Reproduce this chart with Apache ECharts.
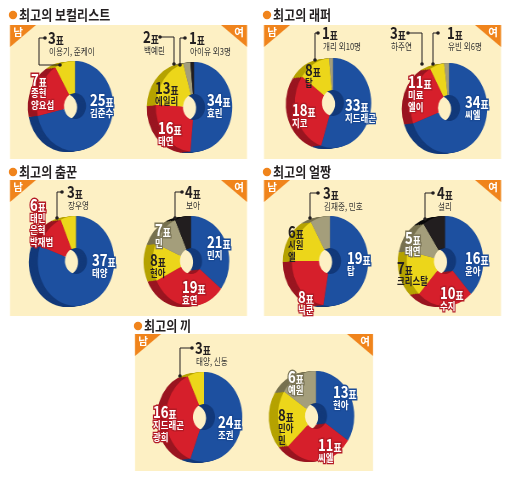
<!DOCTYPE html>
<html>
<head>
<meta charset="utf-8">
<script src="https://cdn.jsdelivr.net/npm/echarts@6/dist/echarts.min.js"></script>
<style>
html, body { margin: 0; padding: 0; background: #fff; width: 510px; height: 480px; overflow: hidden; }
/* 도넛은 세로로 긴 타원 → 파이 레이어만 가로로 압축 */
#pies { position: absolute; left: 0; top: 0; width: 600px; height: 480px; transform: scaleX(0.85); transform-origin: 0 0; }
#text { position: absolute; left: 0; top: 0; width: 510px; height: 480px; }
</style>
</head>
<body>
<div id="pies"></div>
<div id="text"></div>
<script>
// 부문별 득표수(표) — 남/여
const TITLES = ['최고의 보컬리스트', '최고의 래퍼', '최고의 춤꾼', '최고의 얼짱', '최고의 끼'];
const GENDER = ['남', '여'];

const vocalM = [25, 7, 3];
const vocalMNames = ['김준수', '종현\n양요섭', '이용기, 준케이'];
const vocalF = [34, 16, 13, 2, 1];
const vocalFNames = ['효린', '태연', '에일리', '백예린', '아이유 외3명'];
const rapM = [33, 18, 8, 1];
const rapMNames = ['지드래곤', '지코', '탑', '개리 외10명'];
const rapF = [34, 11, 3, 1];
const rapFNames = ['씨엘', '미료\n엘이', '하주연', '유빈 외6명'];
const danceM = [37, 6, 3];
const danceMNames = ['태양', '태민\n은혁\n박재범', '장우영'];
const danceF = [21, 19, 8, 7, 4];
const danceFNames = ['민지', '효연', '현아', '민', '보아'];
const faceM = [19, 8, 6, 3];
const faceMNames = ['탑', '닉쿤', '시원\n엘', '김재중, 민호'];
const faceF = [16, 10, 7, 5, 4];
const faceFNames = ['윤아', '수지', '크리스탈', '태연', '설리'];
const talentM = [24, 16, 3];
const talentMNames = ['조권', '지드래곤\n광희', '태양, 신동'];
const talentF = [13, 11, 8, 6];
const talentFNames = ['현아', '씨엘', '민아\n민', '예원'];

// ---- 배치/스타일 ----
const S = 0.85;                 // 가로 압축 비율 (#pies 의 scaleX 와 같게)
const R_IN = 13, R_OUT = 45, DEPTH = 9;
const FONT = '"Noto Sans CJK KR", "Noto Sans", sans-serif';
const TOP = ['#1d50a0', '#d61f2b', '#ecd61a', '#a49e7b', '#221e1f'];
const SIDE = ['#12397a', '#9a1520', '#b5a200', '#77714f', '#0a0a0a'];
const INK = [['#fff', '#1a4a96'], ['#fff', '#b31a25'], ['#231f20', null], ['#fff', '#7c7658'], ['#fff', '#221e1f']];
const PANEL_BG = '#fdf0c4', ORANGE = '#f0841c';

const panels = [
  { x: 10, y: 25, w: 237, h: 134, tx: 13, ty: 15 },
  { x: 264, y: 25, w: 237, h: 134, tx: 267, ty: 15 },
  { x: 10, y: 180, w: 237, h: 136, tx: 13, ty: 172 },
  { x: 264, y: 180, w: 237, h: 136, tx: 267, ty: 172 },
  { x: 135, y: 334, w: 238, h: 137, tx: 138, ty: 326 },
];

// c: 윗면 중심, lab: 값 라벨 위치(왼쪽, 세로 중앙), lead: 바깥 라벨 지시선
const donuts = [
  { v: vocalM, n: vocalMNames, c: [75, 106], lab: [[90, 100], [31, 80], [48, 38]],
    lead: { 2: [[45, 38], [39, 38], [39, 65], [60, 65]] } },
  { v: vocalF, n: vocalFNames, c: [194, 107], lab: [[207, 100], [158, 128], [155, 88], [143, 37], [189, 38]],
    lead: { 3: [[160, 37], [174, 37], [174, 64]], 4: [[185, 38], [180, 38], [180, 65]] } },
  { v: rapM, n: rapMNames, c: [333, 103], lab: [[345, 105], [292, 110], [305, 70], [322, 33]],
    lead: { 3: [[318, 33], [315, 33], [315, 60]] } },
  { v: rapF, n: rapFNames, c: [449, 108], lab: [[465, 102], [408, 82], [390, 33], [447, 33]],
    lead: { 2: [[408, 33], [422, 33], [422, 64]], 3: [[438, 33], [433, 33], [433, 64]] } },
  { v: danceM, n: danceMNames, c: [76, 261], lab: [[92, 260], [30, 205], [67, 192]],
    lead: { 2: [[62, 192], [57, 192], [57, 218]] } },
  { v: danceF, n: danceFNames, c: [191, 261], lab: [[207, 242], [182, 287], [150, 260], [155, 230], [185, 192]],
    lead: { 4: [[182, 192], [175, 192], [175, 218]] } },
  { v: faceM, n: faceMNames, c: [330, 261], lab: [[347, 258], [298, 297], [288, 232], [323, 193]],
    lead: { 3: [[318, 193], [310, 193], [310, 218]] } },
  { v: faceF, n: faceFNames, c: [445, 261], lab: [[465, 258], [440, 293], [397, 268], [405, 238], [437, 193]],
    lead: { 4: [[433, 193], [425, 193], [425, 219]] } },
  { v: talentM, n: talentMNames, c: [204, 417], lab: [[218, 422], [153, 412], [195, 348]],
    lead: { 2: [[192, 348], [180, 348], [180, 376]] } },
  { v: talentF, n: talentFNames, c: [316, 416], lab: [[333, 392], [318, 445], [278, 415], [288, 377]] },
];

// ---- 파이 레이어 (패널 배경 + 입체 도넛) ----
function pieBase(center, z, cols, d) {
  return {
    type: 'pie', silent: true, animation: false, z,
    startAngle: 90, clockwise: true, center, radius: [R_IN, R_OUT],
    label: { show: false }, labelLine: { show: false }, emphasis: { disabled: true },
    data: d.v.map((v, i) => ({ value: v, name: d.n[i], itemStyle: { color: cols[i] } })),
  };
}
const series = [];
donuts.forEach((d) => {
  // 옆면: 왼쪽으로 조금씩 밀어 겹쳐서 두께를 만든다
  for (let off = DEPTH; off > 0; off -= 1.5) {
    series.push(pieBase([(d.c[0] - off) / S, d.c[1] + off * 0.12], 2, SIDE, d));
  }
  series.push(pieBase([d.c[0] / S, d.c[1]], 3, TOP, d));
});

const bgGraphic = [];
panels.forEach((p) => {
  bgGraphic.push({ type: 'rect', z: -10, shape: { x: p.x / S, y: p.y, width: p.w / S, height: p.h }, style: { fill: PANEL_BG } });
  bgGraphic.push({ type: 'polygon', z: -9, shape: { points: [[p.x / S, p.y], [(p.x + 26) / S, p.y], [p.x / S, p.y + 22]] }, style: { fill: ORANGE } });
  bgGraphic.push({ type: 'polygon', z: -9, shape: { points: [[(p.x + p.w) / S, p.y], [(p.x + p.w - 26) / S, p.y], [(p.x + p.w) / S, p.y + 22]] }, style: { fill: ORANGE } });
});

const pies = echarts.init(document.getElementById('pies'));
pies.setOption({ animation: false, backgroundColor: 'transparent', graphic: bgGraphic, series });

// ---- 글자 레이어 ----
const g = [];
panels.forEach((p, k) => {
  g.push({ type: 'circle', shape: { cx: p.tx, cy: p.ty, r: 4.2 }, style: { fill: ORANGE } });
  g.push({ type: 'text', x: p.tx + 6, y: p.ty, scaleX: 0.86,
    style: { text: TITLES[k], fontSize: 14, fontWeight: 'bold', fontFamily: FONT, fill: '#231f20', verticalAlign: 'middle' } });
  g.push({ type: 'text', x: p.x + 8, y: p.y + 7,
    style: { text: GENDER[0], fontSize: 10.5, fontWeight: 'bold', fontFamily: FONT, fill: '#fff', align: 'center', verticalAlign: 'middle' } });
  g.push({ type: 'text', x: p.x + p.w - 8, y: p.y + 7,
    style: { text: GENDER[1], fontSize: 10.5, fontWeight: 'bold', fontFamily: FONT, fill: '#fff', align: 'center', verticalAlign: 'middle' } });
});

donuts.forEach((d) => {
  d.v.forEach((v, i) => {
    const [lx, ly] = d.lab[i];
    const pts = d.lead && d.lead[i];
    const [fill, stroke] = pts ? ['#231f20', null] : INK[i];
    const rich = (size) => ({ fontSize: size, fontWeight: 'bold', fontFamily: FONT, fill,
      stroke: stroke || 'transparent', lineWidth: stroke ? 3 : 0, verticalAlign: 'bottom' });
    g.push({ type: 'text', x: lx, y: ly, scaleX: 0.8, z: 10,
      style: { text: `{n|${v}}{u|표}`, verticalAlign: 'middle', rich: { n: rich(16.5), u: rich(11) } } });
    g.push({ type: 'text', x: lx + (pts ? 1 : 0), y: ly + 7, scaleX: 0.8, z: 10,
      style: { text: d.n[i], verticalAlign: 'top', fontSize: pts ? 9.5 : 10.5, lineHeight: 12,
        fontWeight: pts ? 'normal' : 'bold', fontFamily: FONT,
        fill: pts ? '#333' : fill, stroke: stroke || 'transparent', lineWidth: stroke ? 2.5 : 0 } });
    if (pts) {
      g.push({ type: 'polyline', z: 9, shape: { points: pts }, style: { stroke: '#231f20', lineWidth: 1, fill: null } });
      [pts[0], pts[pts.length - 1]].forEach((q) =>
        g.push({ type: 'circle', z: 9, shape: { cx: q[0], cy: q[1], r: 1.8 }, style: { fill: '#231f20' } }));
    }
  });
});

const text = echarts.init(document.getElementById('text'));
text.setOption({ animation: false, backgroundColor: 'transparent', graphic: g });
</script>
</body>
</html>
